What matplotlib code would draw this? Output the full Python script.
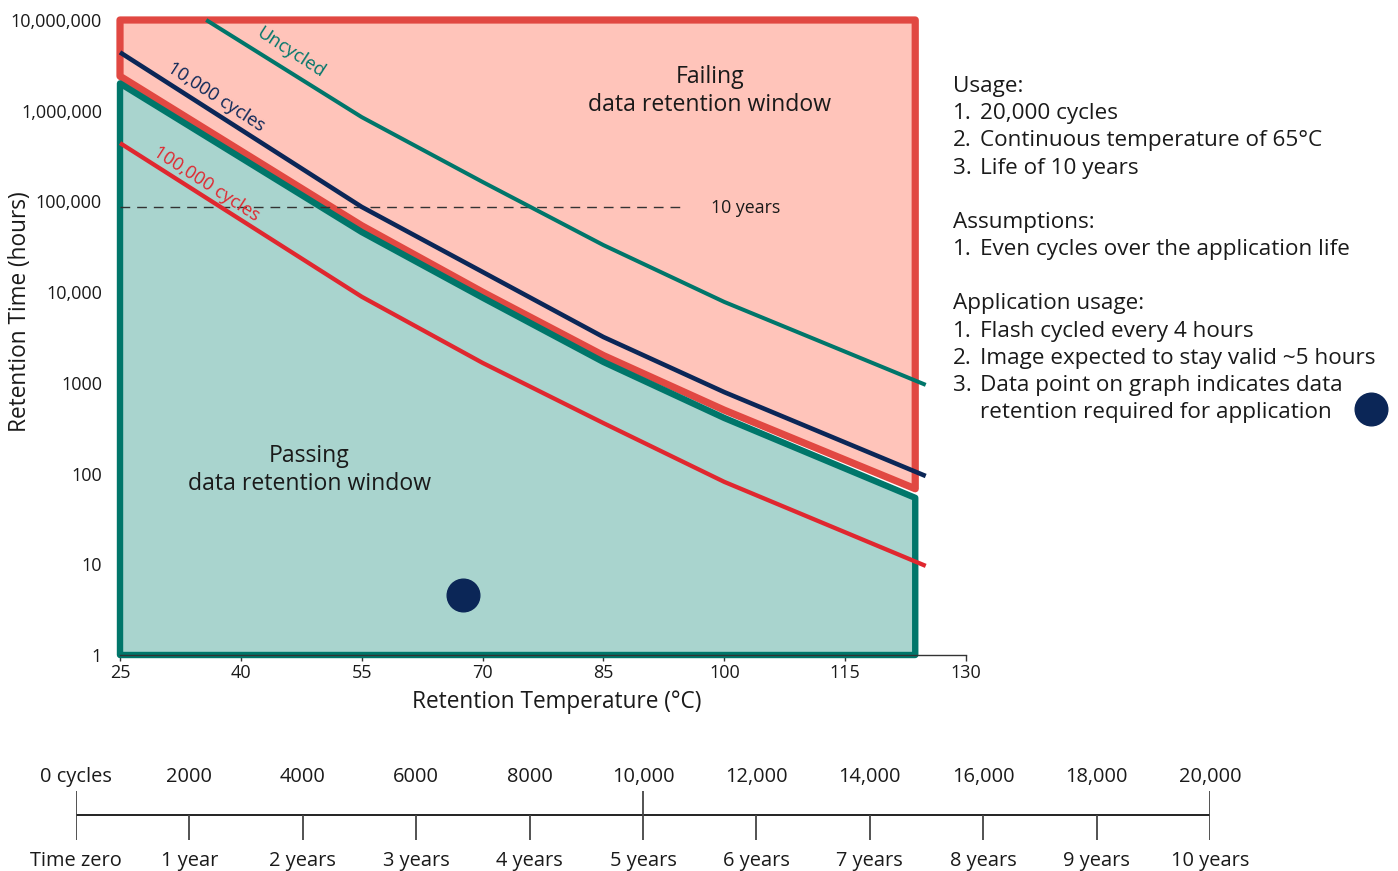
import matplotlib
matplotlib.use('Agg')
import matplotlib.pyplot as plt
from matplotlib.patches import Polygon

plt.rcParams['font.family'] = ['Open Sans', 'DejaVu Sans']

# ---------------- data ----------------
curve_temps = [25, 55, 70, 85, 100, 125]
uncycled_temps = [35.7, 55, 70, 85, 100, 125]
uncycled_hours = [1.0e7, 8.5e5, 1.64e5, 3.3e4, 7.8e3, 950]
cyc10k_hours = [4.4e6, 8.7e4, 1.67e4, 3.2e3, 790, 94]
cyc100k_hours = [4.4e5, 8.9e3, 1.66e3, 360, 81, 9.6]

window_temps = [25, 55, 70, 85, 100, 123.7]
failing_edge = [2.4e6, 5.4e4, 1.0e4, 2.0e3, 500, 68]
passing_edge = [2.0e6, 4.6e4, 8.7e3, 1.7e3, 410, 54]

ten_years_hours = 87600
ten_years_end_temp = 95.1
app_point_temp = 67.6
app_point_hours = 4.6

x_ticks = [25, 40, 55, 70, 85, 100, 115, 130]
y_ticks = [1, 10, 100, 1000, 1e4, 1e5, 1e6, 1e7]
y_tick_labels = ['1', '10', '100', '1000', '10,000', '100,000', '1,000,000', '10,000,000']

timeline_cycles = [0, 2000, 4000, 6000, 8000, 10000, 12000, 14000, 16000, 18000, 20000]
timeline_top = ['0 cycles', '2000', '4000', '6000', '8000', '10,000', '12,000',
                '14,000', '16,000', '18,000', '20,000']
timeline_bottom = ['Time zero', '1 year', '2 years', '3 years', '4 years', '5 years',
                   '6 years', '7 years', '8 years', '9 years', '10 years']
timeline_major = [0, 10000, 20000]

notes = [
    ('', 'Usage:'),
    ('1.', '20,000 cycles'),
    ('2.', 'Continuous temperature of 65°C'),
    ('3.', 'Life of 10 years'),
    ('', ''),
    ('', 'Assumptions:'),
    ('1.', 'Even cycles over the application life'),
    ('', ''),
    ('', 'Application usage:'),
    ('1.', 'Flash cycled every 4 hours'),
    ('2.', 'Image expected to stay valid ~5 hours'),
    ('3.', 'Data point on graph indicates data'),
    (None, 'retention required for application'),
]

# ---------------- colours ----------------
RED_FILL = '#FFC4BA'
RED_EDGE = '#E14842'
TEAL_FILL = '#A9D4CE'
TEAL_EDGE = '#00766A'
NAVY = '#0B2657'
RED_LINE = '#E0272F'
TEXT = '#1a1a1a'

W, H = 1398, 871
fig = plt.figure(figsize=(W / 100, H / 100), dpi=100)


def fx(px):
    return px / W


def fy(py):
    return 1 - py / H


ax = fig.add_axes([fx(120), fy(655), (966 - 120) / W, (655 - 20) / H])
ax.set_xlim(25, 130)
ax.set_yscale('log')
ax.set_ylim(1, 1e7)

right_t = window_temps[-1]
fail_vertices = [(25, 1e7), (right_t, 1e7)] + list(zip(window_temps, failing_edge))[::-1]
pass_vertices = list(zip(window_temps, passing_edge)) + [(right_t, 1), (25, 1)]

ax.add_patch(Polygon(fail_vertices, closed=True, facecolor=RED_FILL, edgecolor=RED_EDGE,
                     lw=5.2, joinstyle='round', clip_on=False, zorder=2))
ax.add_patch(Polygon(pass_vertices, closed=True, facecolor=TEAL_FILL, edgecolor=TEAL_EDGE,
                     lw=4.6, joinstyle='round', clip_on=False, zorder=2.1))

ax.plot([25, ten_years_end_temp], [ten_years_hours] * 2, color='#333333', lw=1.0,
        dashes=(7, 5), zorder=2.5)
ax.text(98.4, ten_years_hours * 0.97, '10 years', fontsize=12.8, color=TEXT, va='center',
        ha='left', zorder=5)

ax.plot(uncycled_temps, uncycled_hours, color=TEAL_EDGE, lw=2.9, clip_on=False, zorder=3,
        solid_capstyle='butt')
ax.plot(curve_temps, cyc10k_hours, color=NAVY, lw=3.3, clip_on=False, zorder=3,
        solid_capstyle='butt')
ax.plot(curve_temps, cyc100k_hours, color=RED_LINE, lw=3.1, clip_on=False, zorder=3,
        solid_capstyle='butt')

ax.text(46.2, 10 ** 6.64, 'Uncycled', color=TEAL_EDGE, fontsize=13.2, rotation=-33,
        rotation_mode='anchor', ha='center', va='center', zorder=5)
ax.text(36.9, 10 ** 6.15, '10,000 cycles', color=NAVY, fontsize=13.2, rotation=-33,
        rotation_mode='anchor', ha='center', va='center', zorder=5)
ax.text(35.7, 10 ** 5.19, '100,000 cycles', color=RED_LINE, fontsize=13.2, rotation=-33,
        rotation_mode='anchor', ha='center', va='center', zorder=5)

ax.text(98.2, 10 ** 6.22, 'Failing\ndata retention window', fontsize=16.6, color=TEXT,
        ha='center', va='center', linespacing=1.2, zorder=5)
ax.text(48.5, 10 ** 2.04, 'Passing\ndata retention window', fontsize=16.6, color=TEXT,
        ha='center', va='center', linespacing=1.2, zorder=5)

ax.plot([app_point_temp], [app_point_hours], 'o', color=NAVY, ms=23.5, zorder=6)

for s in ['top', 'right', 'left']:
    ax.spines[s].set_visible(False)
ax.spines['bottom'].set_color('#333333')
ax.spines['bottom'].set_linewidth(1.0)
ax.set_xticks(x_ticks)
ax.set_xticklabels([str(t) for t in x_ticks])
ax.set_yticks(y_ticks)
ax.set_yticklabels(y_tick_labels)
ax.yaxis.set_minor_locator(matplotlib.ticker.NullLocator())
ax.tick_params(axis='y', length=0, pad=13, labelsize=13, labelcolor=TEXT)
ax.tick_params(axis='x', length=4, width=1, color='#333333', pad=2.5, labelsize=13,
               labelcolor=TEXT)
ax.set_xlabel('Retention Temperature (°C)', fontsize=16.3, color=TEXT)
ax.xaxis.set_label_coords((557 - 120) / (966 - 120), -(702 - 655) / (655 - 20), transform=ax.transAxes)
ax.xaxis.label.set_va('center')
ax.set_ylabel('Retention Time (hours)', fontsize=16.3, color=TEXT)
ax.yaxis.set_label_coords(-(120 - 20) / (966 - 120), (655 - 312) / (655 - 20))
ax.yaxis.label.set_va('center')

# ---------------- notes on the right ----------------
y0, dy = 86.5, 27.17
for i, (num, txt) in enumerate(notes):
    y = y0 + i * dy
    if num is None:
        fig.text(fx(980), fy(y), txt, fontsize=16.2, color=TEXT, va='center', ha='left')
    elif num == '':
        fig.text(fx(953), fy(y), txt, fontsize=16.2, color=TEXT, va='center', ha='left')
    else:
        fig.text(fx(953), fy(y), num, fontsize=16.2, color=TEXT, va='center', ha='left')
        fig.text(fx(980), fy(y), txt, fontsize=16.2, color=TEXT, va='center', ha='left')

dot_ax = fig.add_axes([0, 0, 1, 1], facecolor='none')
dot_ax.set_xlim(0, W)
dot_ax.set_ylim(H, 0)
dot_ax.axis('off')
dot_ax.plot([1371], [409], 'o', color=NAVY, ms=23.5)

# ---------------- timeline ----------------
tl = fig.add_axes([fx(76), 0, (1210 - 76) / W, 120 / H], facecolor='none')
tl.set_xlim(0, 20000)
tl.set_ylim(871, 751)
tl.axis('off')
tl.plot([0, 20000], [815, 815], color='#111111', lw=1.3, solid_capstyle='butt')
for c in timeline_cycles:
    top = 791 if c in timeline_major else 815
    tl.plot([c, c], [top, 840], color='#444444', lw=1.3, solid_capstyle='butt')
for c, a, b in zip(timeline_cycles, timeline_top, timeline_bottom):
    tl.text(c, 777, a, fontsize=14.4, color=TEXT, ha='center', va='center', clip_on=False)
    tl.text(c, 861, b, fontsize=14.4, color=TEXT, ha='center', va='center', clip_on=False)

fig.savefig('out.png', dpi=100)
